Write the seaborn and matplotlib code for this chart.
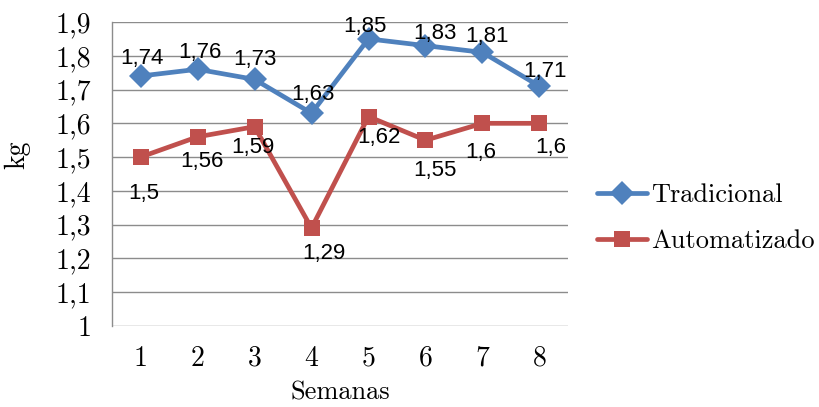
import pandas as pd
import matplotlib.pyplot as plt
import seaborn as sns

semanas = [1, 2, 3, 4, 5, 6, 7, 8]
tradicional = [1.74, 1.76, 1.73, 1.63, 1.85, 1.83, 1.81, 1.71]
automatizado = [1.50, 1.56, 1.59, 1.29, 1.62, 1.55, 1.60, 1.60]
y_ticks = [1.0, 1.1, 1.2, 1.3, 1.4, 1.5, 1.6, 1.7, 1.8, 1.9]

# label offsets (pixels)
off_trad = [(1, 18), (2, 17), (0, 20), (1, 19), (-4, 12), (9, 12), (5, 16), (6, 15)]
off_auto = [(3, -36), (4, -25), (-2, -21), (12, -25), (10, -21), (9, -30), (-2, -29), (11, -24)]

def fmt(v):
    return ("%g" % v).replace(".", ",")

df = pd.DataFrame({
    "Semanas": semanas * 2,
    "kg": tradicional + automatizado,
    "serie": ["Tradicional"] * 8 + ["Automatizado"] * 8,
})

sns.set_style("white")
plt.rcParams['font.family'] = ['cmr10', 'DejaVu Serif']
plt.rcParams['axes.unicode_minus'] = False
plt.rcParams['text.color'] = 'black'
plt.rcParams['xtick.color'] = 'black'
plt.rcParams['ytick.color'] = 'black'
plt.rcParams['axes.labelcolor'] = 'black'

colors = {"Tradicional": "#4F81BD", "Automatizado": "#C0504D"}
fig = plt.figure(figsize=(8.19, 4.07), dpi=100)
ax = fig.add_axes([0.1368, 0.199, 0.5567, 0.747])

sns.lineplot(data=df, x="Semanas", y="kg", hue="serie", style="serie",
             markers={"Tradicional": "D", "Automatizado": "s"}, dashes=False,
             palette=colors, linewidth=3.4, markersize=12, markeredgewidth=0,
             ax=ax)

for x, v, (dx, dy) in zip(semanas, tradicional, off_trad):
    ax.annotate(fmt(v), (x, v), xytext=(dx * 0.72, dy * 0.72), textcoords="offset points",
                ha="center", va="center", fontsize=16, family="Liberation Sans", color="black")
for x, v, (dx, dy) in zip(semanas, automatizado, off_auto):
    ax.annotate(fmt(v), (x, v), xytext=(dx * 0.72, dy * 0.72), textcoords="offset points",
                ha="center", va="center", fontsize=16, family="Liberation Sans", color="black")

ax.set_xlim(0.5, 8.5)
ax.set_ylim(1.0, 1.9)
ax.set_yticks(y_ticks)
ax.set_yticklabels([fmt(t) for t in y_ticks], fontsize=20)
ax.set_xticks(semanas)
ax.set_xticklabels([str(s) for s in semanas], fontsize=20)
ax.grid(axis="y", color="#8c8c8c", linewidth=1)
ax.set_axisbelow(True)
for side in ["top", "right", "bottom"]:
    ax.spines[side].set_visible(False)
ax.spines["left"].set_color("#8c8c8c")
ax.spines["left"].set_linewidth(1)
ax.tick_params(axis="y", length=5, color="#8c8c8c", width=1, pad=10)
ax.tick_params(axis="x", length=0, pad=14)

ax.set_xlabel("Semanas", fontsize=19)
ax.set_ylabel("kg", fontsize=20)
ax.xaxis.set_label_coords(0.5, -0.18)
ax.yaxis.set_label_coords(-0.18, 0.5625)

ax.legend(loc="center left", bbox_to_anchor=(1.012, 0.355), frameon=False,
          fontsize=19, handlelength=1.9, handletextpad=0.15, labelspacing=0.85)

fig.savefig("out.png", dpi=100)
